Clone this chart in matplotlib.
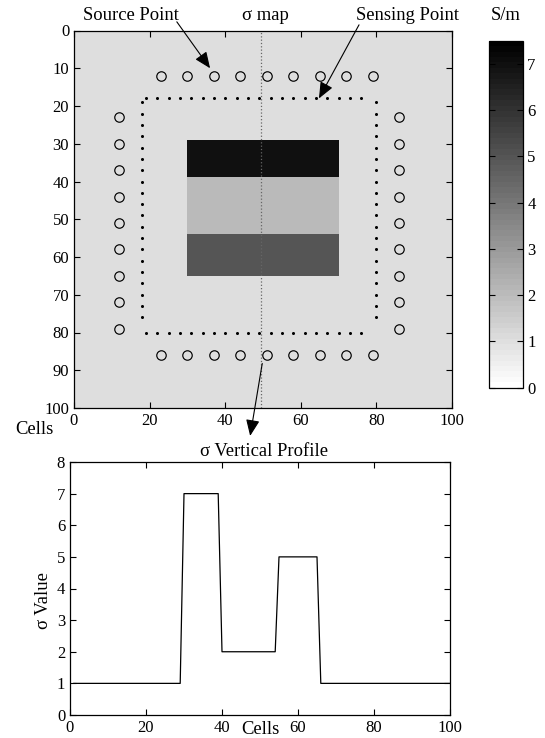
"""sigma map with source / sensing points and the vertical profile through it"""

import numpy as np
import matplotlib
matplotlib.use("Agg")
import matplotlib.pyplot as plt

plt.rcParams["font.family"] = ["Liberation Serif", "DejaVu Serif"]
plt.rcParams["font.size"] = 12

# ---- data ----
grid_n = 100
background = 1.0
# inclusion: horizontal bands (first row, last row), 1-indexed cells
band_rows = [(30, 39), (40, 54), (55, 65)]
band_values = [7.0, 2.0, 5.0]
band_cols = (31, 70)
profile_col = 50

# source points (circles)
source_pos = [23, 30, 37, 44, 51, 58, 65, 72, 79]
source_top, source_bottom = 12, 86
source_left, source_right = 12, 86

# sensing points (dots)
sense_pos = [19, 22, 25, 28, 31, 34, 37, 40, 43, 46,
             49, 52, 55, 58, 61, 64, 67, 70, 73, 76]
sense_top, sense_bottom = 18, 80
sense_left, sense_right = 18, 80

cbar_ticks = [0, 1, 2, 3, 4, 5, 6, 7]
vmax = 7.5

# build the map from the bands
sigma = np.full((grid_n, grid_n), background)
for (r0, r1), v in zip(band_rows, band_values):
    sigma[r0 - 1:r1, band_cols[0] - 1:band_cols[1]] = v
profile = sigma[:, profile_col - 1]
cells = np.arange(1, grid_n + 1)

W, H = 545, 738
fig = plt.figure(figsize=(W / 100, H / 100), dpi=100)


def box(l, t, r, b):
    return [l / W, 1 - b / H, (r - l) / W, (b - t) / H]


def style(ax):
    ax.tick_params(direction="in", top=True, right=True, length=4, width=0.8, pad=3.5)
    for s in ax.spines.values():
        s.set_linewidth(0.9)


# ---- top: sigma map ----
ax = fig.add_axes(box(74, 30.5, 452, 408))
cmap = plt.get_cmap("gray_r", 64)
im = ax.imshow(sigma, cmap=cmap, vmin=0, vmax=vmax, extent=[0, grid_n, grid_n, 0],
               aspect="auto", interpolation="nearest")
ax.axvline(49.5, color="#666666", linestyle=":", linewidth=0.9)

n = len(source_pos)
ax.plot(source_pos, [source_top] * n, "o", mfc="none", mec="k", ms=6.8, mew=0.85)
ax.plot(source_pos, [source_bottom] * n, "o", mfc="none", mec="k", ms=6.8, mew=0.85)
ax.plot([source_left] * n, source_pos, "o", mfc="none", mec="k", ms=6.8, mew=0.85)
ax.plot([source_right] * n, source_pos, "o", mfc="none", mec="k", ms=6.8, mew=0.85)

m = len(sense_pos)
ax.plot(sense_pos, [sense_top] * m, "o", color="k", ms=2.2, mew=0)
ax.plot(sense_pos, [sense_bottom] * m, "o", color="k", ms=2.2, mew=0)
ax.plot([sense_left] * m, sense_pos, "o", color="k", ms=2.2, mew=0)
ax.plot([sense_right] * m, sense_pos, "o", color="k", ms=2.2, mew=0)

ax.set_xlim(0, grid_n)
ax.set_ylim(grid_n, 0)
ax.set_xticks(range(0, 101, 20))
ax.set_yticks(range(0, 101, 10))
style(ax)

arrow = dict(arrowstyle="-|>,head_length=0.9,head_width=0.38", color="k",
             lw=0.8, mutation_scale=11, shrinkA=0, shrinkB=0)
ax.annotate("", xy=(36, 10), xytext=(27.2, -2.3), arrowprops=arrow, annotation_clip=False)
ax.annotate("", xy=(64.8, 18), xytext=(75.4, -1.5), arrowprops=arrow, annotation_clip=False)
ax.annotate("", xy=(46.6, 107.4), xytext=(49.8, 88.2), arrowprops=arrow, annotation_clip=False)

fs = 13.4
fig.text(131 / W, 1 - 16 / H, "Source Point", ha="center", va="center", fontsize=fs)
fig.text(265 / W, 1 - 16 / H, "σ map", ha="center", va="center", fontsize=fs)
fig.text(407 / W, 1 - 16 / H, "Sensing Point", ha="center", va="center", fontsize=fs)
fig.text(34 / W, 1 - 430 / H, "Cells", ha="center", va="center", fontsize=fs)

# colorbar
cax = fig.add_axes(box(489, 40.7, 523, 387.7))
cb = fig.colorbar(im, cax=cax, ticks=cbar_ticks)
cb.outline.set_linewidth(0.9)
cax.tick_params(direction="in", left=True, right=True, length=4, width=0.8, pad=3)
fig.text(506 / W, 1 - 15 / H, "S/m", ha="center", va="center", fontsize=fs)

# ---- bottom: vertical profile ----
ax2 = fig.add_axes(box(70, 462, 450, 715))
ax2.plot(cells, profile, color="k", linewidth=0.9)
ax2.set_xlim(0, grid_n)
ax2.set_ylim(0, 8)
ax2.set_xticks(range(0, 101, 20))
ax2.set_yticks(range(0, 9))
style(ax2)
fig.text(264 / W, 1 - 451 / H, "σ Vertical Profile", ha="center", va="center", fontsize=fs)
fig.text(260 / W, 1 - 729 / H, "Cells", ha="center", va="center", fontsize=fs)
fig.text(44 / W, 1 - 601 / H, "σ Value", ha="center", va="center", rotation=90, fontsize=fs)

fig.savefig("out.png", dpi=100)
